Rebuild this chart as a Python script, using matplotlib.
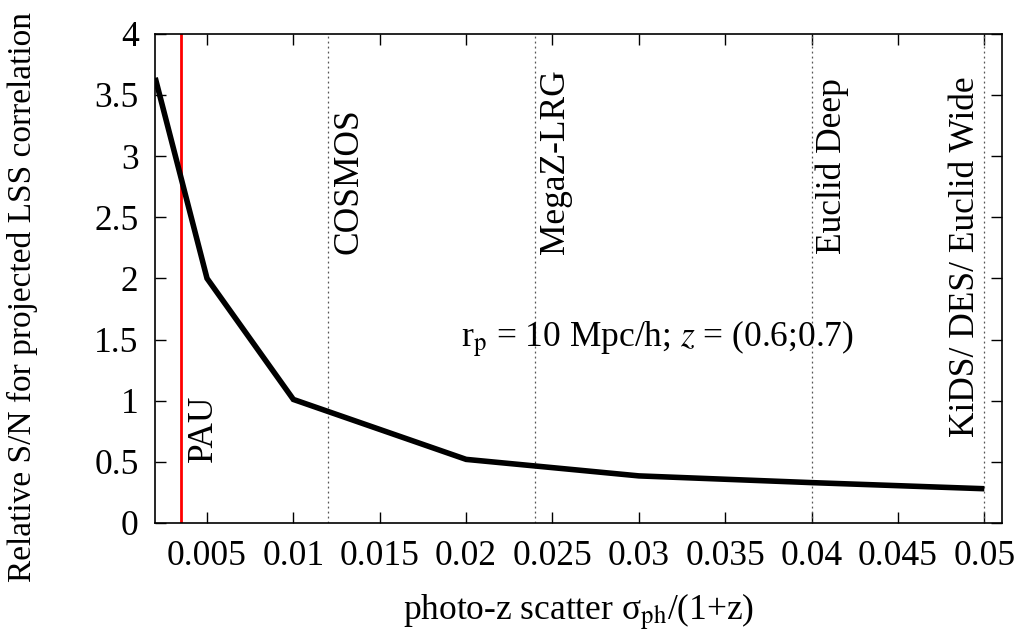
import numpy as np
import matplotlib.pyplot as plt

plt.rcParams['font.family'] = ['Liberation Serif', 'DejaVu Serif']
plt.rcParams['mathtext.fontset'] = 'stix'
plt.rcParams['font.size'] = 25.5

# photo-z scatter vs relative S/N
sigma = [0.002, 0.005, 0.01, 0.02, 0.03, 0.04, 0.05]
rel_sn = [3.64, 2.0, 1.01, 0.52, 0.385, 0.33, 0.28]

# surveys
pau_x = 0.0035
surveys = ['COSMOS', 'MegaZ-LRG', 'Euclid Deep', 'KiDS/ DES/ Euclid Wide']
survey_x = [0.012, 0.024, 0.04, 0.05]
survey_label_y = [2.2, 2.2, 2.2, 0.7]

fig, ax = plt.subplots(figsize=(10.21, 6.37), dpi=100)
fig.subplots_adjust(left=0.152, right=0.981, top=0.947, bottom=0.179)

for sx in survey_x:
    ax.axvline(sx, color='#555555', lw=0.9, ls=(0, (1.5, 2.5)))
ax.axvline(pau_x, color='red', lw=2)
ax.plot(sigma, rel_sn, color='black', lw=4, solid_joinstyle='miter', solid_capstyle='butt')

ax.text(pau_x + 0.0013, 0.5, 'PAU', rotation=90, ha='center', va='bottom')
for name, sx, ly in zip(surveys, survey_x, survey_label_y):
    ax.text(sx - 0.0011 if sx >= 0.05 else sx + 0.0012, ly, name,
            rotation=90, ha='center', va='bottom')

ax.text(0.0197, 1.5, r'r$_\mathrm{p}$ = 10 Mpc/h; $z$ = (0.6;0.7)', va='center', ha='left')

ax.set_xlim(0.002, 0.051)
ax.set_ylim(0, 4)
ax.set_xticks([0.005, 0.01, 0.015, 0.02, 0.025, 0.03, 0.035, 0.04, 0.045, 0.05])
ax.set_xticklabels(['0.005', '0.01', '0.015', '0.02', '0.025', '0.03', '0.035', '0.04', '0.045', '0.05'])
ax.set_yticks(np.arange(0, 4.01, 0.5))
ax.set_yticklabels(['0', '0.5', '1', '1.5', '2', '2.5', '3', '3.5', '4'])
ax.tick_params(direction='in', top=True, right=True, length=8, width=1, pad=12)
for s in ax.spines.values():
    s.set_linewidth(1.2)

ax.set_xlabel('photo-z scatter σ$_\\mathrm{ph}$/(1+z)', labelpad=14)
ax.set_ylabel('Relative S/N for projected LSS correlation', fontsize=24)
ax.yaxis.set_label_coords(-0.139, 0.462)

fig.savefig('out.png', dpi=100)
